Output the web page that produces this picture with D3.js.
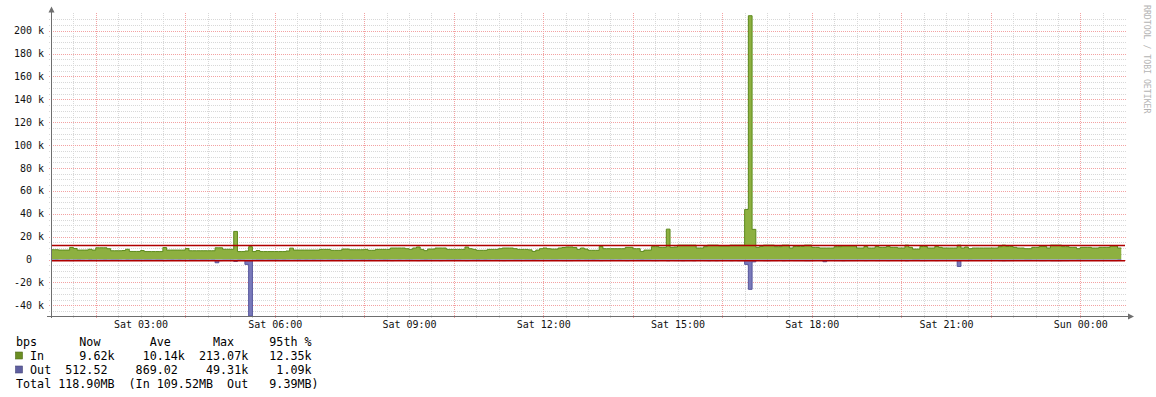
<!DOCTYPE html>
<html>
<head>
<script src="https://d3js.org/d3.v7.min.js"></script>
<style>
    body { margin: 0; background: #fff; }
    text { font-family: "DejaVu Sans Mono", monospace; }
    .legend text { white-space: pre; }
</style>
</head>
<body>
<div id="chart"></div>
<script>
// traffic in k bits/s, one sample every 5 minutes starting Sat 01:00
const inValues = [
    8.6, 8.6, 8.3, 8.3, 8.3, 10.6, 9.7, 8.3, 8.3, 8.3, 9.0, 8.3,
    10.3, 10.3, 10.3, 9.5, 7.7, 7.7, 7.7, 7.9, 9.0, 7.1, 7.1, 7.1,
    7.9, 7.0, 7.0, 7.0, 7.0, 7.0, 10.5, 8.3, 8.3, 8.3, 8.3, 8.3,
    9.7, 7.7, 7.7, 7.7, 7.7, 7.7, 7.7, 7.7, 10.3, 10.3, 9.0, 9.0,
    9.0, 24.6, 7.0, 7.0, 7.5, 11.3, 7.0, 7.9, 7.0, 7.0, 7.0, 7.0,
    7.0, 7.0, 7.0, 7.5, 10.0, 8.3, 8.3, 8.3, 8.3, 8.3, 8.3, 8.3,
    8.9, 8.9, 8.9, 8.1, 8.1, 8.1, 9.2, 9.2, 8.6, 8.6, 8.6, 8.6,
    8.9, 8.1, 8.1, 8.9, 8.9, 8.9, 8.9, 10.1, 10.1, 10.1, 10.1, 9.5,
    8.9, 10.1, 11.0, 8.9, 7.8, 9.2, 9.2, 10.1, 10.1, 10.1, 8.9, 8.9,
    8.9, 8.9, 8.9, 11.0, 9.5, 8.9, 8.1, 8.1, 8.1, 8.9, 8.9, 8.9,
    9.5, 10.1, 10.1, 10.1, 9.5, 8.9, 8.9, 8.9, 8.5, 7.1, 8.3, 9.5,
    10.1, 9.5, 9.2, 9.2, 10.1, 10.5, 11.0, 11.0, 10.5, 8.9, 10.1, 9.2,
    8.1, 8.1, 8.1, 11.5, 9.5, 9.5, 9.5, 9.5, 9.5, 9.5, 10.7, 10.7,
    9.5, 9.5, 7.1, 8.3, 8.3, 11.3, 11.3, 10.7, 10.7, 26.6, 10.7, 11.0,
    12.6, 12.6, 12.6, 12.6, 12.6, 10.1, 10.1, 11.3, 12.6, 12.6, 12.6, 12.0,
    12.0, 12.0, 12.6, 12.6, 12.6, 12.6, 43.8, 213.07, 26.4, 10.7, 11.5, 12.6,
    12.6, 12.6, 11.3, 11.3, 12.6, 12.6, 10.1, 11.5, 11.5, 11.5, 12.6, 12.6,
    10.7, 10.7, 10.1, 10.1, 10.1, 10.1, 11.3, 11.3, 12.0, 12.0, 12.0, 12.0,
    10.1, 10.1, 11.5, 10.1, 10.1, 11.5, 10.7, 10.7, 11.5, 10.7, 10.7, 10.1,
    10.1, 12.6, 10.7, 9.2, 9.2, 11.5, 11.5, 10.1, 10.1, 11.5, 10.7, 10.1,
    10.1, 10.1, 10.1, 12.6, 10.1, 11.0, 9.5, 10.1, 10.1, 10.1, 10.1, 10.1,
    10.1, 10.1, 11.3, 12.6, 11.5, 11.5, 10.7, 10.1, 10.1, 9.5, 9.5, 10.7,
    10.7, 11.5, 11.5, 10.1, 12.6, 12.6, 12.6, 11.3, 11.3, 10.7, 10.7, 9.5,
    10.7, 10.7, 10.7, 10.1, 10.1, 10.7, 10.7, 10.7, 11.9, 11.9, 10.1
];
const outValues = [
    0.7, 0.6, 0.8, 0.7, 0.6, 0.9, 0.7, 0.6, 0.7, 0.8, 0.6, 0.7,
    0.8, 0.7, 0.6, 0.7, 0.6, 0.6, 0.7, 0.8, 0.6, 0.7, 0.6, 0.6,
    0.7, 0.6, 0.6, 0.7, 0.6, 0.6, 0.9, 0.7, 0.6, 0.7, 0.6, 0.7,
    0.8, 0.6, 0.6, 0.7, 0.6, 0.6, 0.7, 0.6, 2.8, 0.9, 0.7, 0.7,
    0.7, 1.6, 0.6, 0.7, 4.2, 49.31, 0.7, 0.6, 0.6, 0.7, 0.6, 0.6,
    0.6, 0.7, 0.6, 0.7, 0.8, 0.7, 0.6, 0.7, 0.6, 0.7, 0.6, 0.7,
    0.7, 0.8, 0.7, 0.6, 0.7, 0.6, 0.8, 0.7, 0.6, 0.7, 0.7, 0.6,
    0.7, 0.6, 0.7, 0.8, 0.7, 0.6, 0.7, 0.9, 0.8, 0.7, 0.8, 0.7,
    0.7, 0.8, 0.9, 0.7, 0.6, 0.7, 0.8, 0.8, 0.9, 0.8, 0.7, 0.7,
    0.7, 0.7, 0.8, 0.9, 0.8, 0.7, 0.6, 0.7, 0.6, 0.7, 0.8, 0.7,
    0.8, 0.9, 0.8, 0.8, 0.7, 0.7, 0.8, 0.7, 0.7, 0.6, 0.7, 0.8,
    0.8, 0.8, 0.7, 0.7, 0.8, 0.9, 0.9, 0.9, 0.8, 0.7, 0.8, 0.7,
    0.7, 0.6, 0.7, 0.9, 0.8, 0.8, 0.7, 0.8, 0.7, 0.8, 0.9, 0.8,
    0.8, 0.7, 0.6, 0.7, 0.7, 0.9, 0.9, 0.8, 0.8, 1.0, 0.8, 0.9,
    0.9, 1.0, 0.9, 0.9, 1.0, 0.8, 0.8, 0.9, 1.0, 0.9, 1.0, 0.9,
    0.9, 0.9, 1.0, 0.9, 1.0, 1.0, 4.2, 26.0, 2.0, 0.8, 0.9, 1.0,
    1.0, 0.9, 0.9, 0.8, 1.0, 0.9, 0.8, 0.9, 0.9, 0.9, 1.0, 1.0,
    0.9, 0.8, 0.8, 1.9, 0.8, 0.8, 0.9, 0.9, 1.0, 0.9, 0.9, 0.9,
    0.8, 0.8, 0.9, 0.8, 0.8, 0.9, 0.8, 0.8, 0.9, 0.8, 0.8, 0.8,
    0.8, 1.0, 0.8, 0.7, 0.7, 0.9, 0.9, 0.8, 0.8, 0.9, 0.8, 0.8,
    0.8, 0.8, 0.8, 6.0, 0.8, 0.9, 0.7, 0.8, 0.8, 0.8, 0.8, 0.8,
    0.8, 0.8, 0.9, 1.0, 0.9, 0.9, 0.8, 0.8, 0.8, 0.7, 0.7, 0.8,
    0.8, 0.9, 0.9, 0.8, 1.0, 1.0, 1.0, 0.9, 0.9, 0.8, 0.8, 0.7,
    0.8, 0.8, 0.8, 0.8, 0.8, 0.8, 0.8, 0.8, 0.9, 0.9, 0.5
];
const p95In = 12.35;
const p95Out = 1.09;
const yTicks = [-40, -20, 0, 20, 40, 60, 80, 100, 120, 140, 160, 180, 200];

// legend
const legendNames = ["In", "Out"];
const legendNow = ["9.62k", "512.52"];
const legendAve = ["10.14k", "869.02"];
const legendMax = ["213.07k", "49.31k"];
const legend95 = ["12.35k", "1.09k"];
const totals = ["118.90MB", "109.52MB", "9.39MB"];

const inFill = "#8db040", inLine = "#5c8a1c", inKey = "#6b8e23";
const outFill = "#7a7abb", outLine = "#55559c", outKey = "#5f5f9f";

const W = 1156, H = 397;
const svg = d3.select("#chart").append("svg")
    .attr("width", W).attr("height", H);
svg.append("rect").attr("width", W).attr("height", H).attr("fill", "#fff");

const start = new Date(2024, 0, 6, 1, 0);
const end = d3.timeHour.offset(start, 24);
const x = d3.scaleTime().domain([start, end]).range([51, 1125]);
const y = d3.scaleLinear().domain([-49.3, 215]).range([316, 13.5]);
const snap = v => Math.round(v) + 0.5;

function toPoints(vals, sign) {
    const pts = vals.map((v, i) => ({t: d3.timeMinute.offset(start, 5 * i), v: sign * v}));
    pts.push({t: d3.timeMinute.offset(start, 5 * vals.length), v: sign * vals[vals.length - 1]});
    return pts;
}
const inPts = toPoints(inValues, 1);
const outPts = toPoints(outValues, -1);

const area = d3.area().curve(d3.curveStepAfter)
    .x(d => x(d.t)).y0(y(0)).y1(d => y(d.v));
const line = d3.line().curve(d3.curveStepAfter)
    .x(d => x(d.t)).y(d => y(d.v));

// grid
const grid = svg.append("g").attr("stroke-dasharray", "1,1").attr("stroke-width", 1);
const minorY = d3.range(-45, 215, 5).filter(v => v % 20 !== 0);
grid.selectAll(".hmin").data(minorY).enter().append("line")
    .attr("x1", 49).attr("x2", 1127)
    .attr("y1", d => snap(y(d))).attr("y2", d => snap(y(d)))
    .attr("stroke", "#d8d8d8");
const minorX = d3.timeMinute.every(30).range(start, end)
    .filter(d => !(d.getMinutes() === 0 && d.getHours() % 2 === 0));
grid.selectAll(".vmin").data(minorX).enter().append("line")
    .attr("y1", 13).attr("y2", 318)
    .attr("x1", d => snap(x(d))).attr("x2", d => snap(x(d)))
    .attr("stroke", "#d8d8d8");
grid.selectAll(".hmaj").data(yTicks).enter().append("line")
    .attr("x1", 49).attr("x2", 1127)
    .attr("y1", d => snap(y(d))).attr("y2", d => snap(y(d)))
    .attr("stroke", "#f3a2a2");
grid.selectAll(".vmaj").data(d3.timeHour.every(2).range(start, end)).enter().append("line")
    .attr("y1", 13).attr("y2", 318)
    .attr("x1", d => snap(x(d))).attr("x2", d => snap(x(d)))
    .attr("stroke", "#f3a2a2");

// data
svg.append("path").datum(inPts).attr("d", area).attr("fill", inFill);
svg.append("path").datum(outPts).attr("d", area).attr("fill", outFill);
svg.append("path").datum(inPts).attr("d", line)
    .attr("fill", "none").attr("stroke", inLine).attr("stroke-width", 1);
svg.append("path").datum(outPts).attr("d", line)
    .attr("fill", "none").attr("stroke", outLine).attr("stroke-width", 1);

// 95th percentile rules
[p95In, -p95Out].forEach(v => {
    svg.append("line")
        .attr("x1", 51).attr("x2", 1125)
        .attr("y1", y(v)).attr("y2", y(v))
        .attr("stroke", "#b00000").attr("stroke-width", 1.5);
});

// axes lines + arrows
const axisColor = "#6e6e6e";
svg.append("line").attr("x1", 51.5).attr("x2", 51.5).attr("y1", 318).attr("y2", 11)
    .attr("stroke", axisColor);
svg.append("line").attr("x1", 47).attr("x2", 1129).attr("y1", 316.5).attr("y2", 316.5)
    .attr("stroke", axisColor);
svg.append("path").attr("d", "M48.5,12.5L51.5,6.5L54.5,12.5Z").attr("fill", axisColor);
svg.append("path").attr("d", "M1128,313.5L1134,316.5L1128,319.5Z").attr("fill", axisColor);

// y tick labels; "0" has no unit so rrdtool leaves it two characters further left
svg.append("g").attr("font-size", 10).attr("fill", "#111").attr("text-anchor", "end")
    .selectAll("text").data(yTicks).enter().append("text")
    .attr("x", d => d === 0 ? 32 : 44)
    .attr("y", d => y(d))
    .attr("dy", "0.35em")
    .text(d => d === 0 ? "0" : `${d} k`);

const xAxis = svg.append("g").attr("transform", "translate(0,321)")
    .call(d3.axisBottom(x).tickValues(d3.timeHour.every(3).range(start, end))
        .tickSize(0).tickPadding(0).tickFormat(d3.timeFormat("%a %H:%M")));
xAxis.select(".domain").remove();
xAxis.attr("font-family", "DejaVu Sans Mono").attr("font-size", 10);
xAxis.selectAll("text").attr("fill", "#111");

// watermark
svg.append("text").text("RRDTOOL / TOBI OETIKER")
    .attr("transform", "translate(1143.5,5) rotate(90)")
    .attr("font-size", 8.2).attr("fill", "#b4b4b4");

// legend
function field(s, width) {
    const unit = s.endsWith("k") ? "k" : " ";
    const num = s.endsWith("k") ? s.slice(0, -1) : s;
    return num.padStart(width) + unit;
}
const lg = svg.append("g").attr("class", "legend")
    .attr("font-size", 11.7).attr("fill", "#000");
const header = "bps" + " ".repeat(6) + "Now" + " ".repeat(7) + "Ave" + " ".repeat(6) + "Max" + " ".repeat(5) + "95th %";
const rows = legendNames.map((n, i) =>
    "  " + n.padEnd(3) + field(legendNow[i], 8) + field(legendAve[i], 9) +
    field(legendMax[i], 8) + field(legend95[i], 8));
const totalLine = `Total ${totals[0]}  (In ${totals[1]}  Out ${totals[2].padStart(8)})`;
[header, ...rows, totalLine].forEach((s, i) => {
    lg.append("text").attr("x", 16).attr("y", 345.5 + i * 14)
        .attr("xml:space", "preserve").text(s);
});
[inKey, outKey].forEach((c, i) => {
    lg.append("rect").attr("x", 15.5).attr("y", 352 + i * 14)
        .attr("width", 7).attr("height", 7)
        .attr("fill", c).attr("stroke", d3.color(c).darker(0.8)).attr("stroke-width", 0.6);
});
</script>
</body>
</html>
